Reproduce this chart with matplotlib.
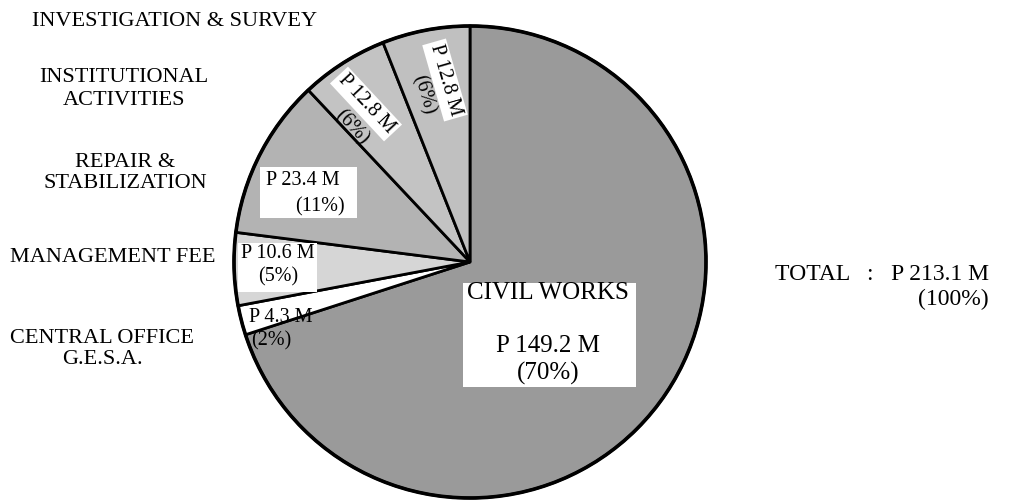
import matplotlib
matplotlib.use('Agg')
import matplotlib.pyplot as plt
from matplotlib.patches import Rectangle

plt.rcParams['font.family'] = 'Liberation Serif'

# data (pesos, millions)
categories = ['CIVIL WORKS', 'CENTRAL OFFICE\nG.E.S.A.', 'MANAGEMENT FEE',
              'REPAIR &\nSTABILIZATION', 'INSTITUTIONAL\nACTIVITIES',
              'INVESTIGATION & SURVEY']
amounts = [149.2, 4.3, 10.6, 23.4, 12.8, 12.8]
percents = [70, 2, 5, 11, 6, 6]
total_amount = 213.1
shades = ['#9a9a9a', '#ffffff', '#d6d6d6', '#b3b3b3', '#c3c3c3', '#c0c0c0']

W, H = 1012, 501
fig = plt.figure(figsize=(W / 100, H / 100), dpi=100)
ax = fig.add_axes([0, 0, 1, 1])

def py(y):  # image row -> data y
    return H - y

cx, cy, r = 470, py(262), 236
wedges, _ = ax.pie(amounts, colors=shades, startangle=90, counterclock=False,
                   center=(cx, cy), radius=r,
                   wedgeprops=dict(edgecolor='black', linewidth=2.0))
ax.set_xlim(0, W)
ax.set_ylim(0, H)
ax.set_aspect('equal')
ax.axis('off')
# heavier rim
ax.add_patch(plt.Circle((cx, cy), r, fill=False, lw=2.6, color='black'))

lbl = [f'P {a} M' for a in amounts]
pct = [f'({p}%)' for p in percents]
fs = 14.5

# white boxes behind the labels
def box(x0, y0, x1, y1):
    ax.add_patch(Rectangle((x0, py(y1)), x1 - x0, y1 - y0, fc='white', ec='none', zorder=3))

# civil works
box(463, 283, 636, 387)
ax.text(548, py(293), categories[0], ha='center', va='center', fontsize=18, zorder=4)
ax.text(548, py(346), lbl[0], ha='center', va='center', fontsize=18, zorder=4)
ax.text(548, py(373), pct[0], ha='center', va='center', fontsize=18, zorder=4)

# central office
ax.text(249, py(317), lbl[1], ha='left', va='center', fontsize=fs, zorder=4)
ax.text(251, py(341), pct[1], ha='left', va='center', fontsize=fs, zorder=4)

# management fee
box(238, 243, 317, 292)
ax.text(278, py(253), lbl[2], ha='center', va='center', fontsize=fs, zorder=4)
ax.text(278, py(277), pct[2], ha='center', va='center', fontsize=fs, zorder=4)

# repair
box(260, 167, 357, 218)
ax.text(303, py(180), lbl[3], ha='center', va='center', fontsize=fs, zorder=4)
ax.text(320, py(207), pct[3], ha='center', va='center', fontsize=fs, zorder=4)

# institutional (rotated)
ax.text(366, py(104), lbl[4], ha='center', va='center', fontsize=fs, rotation=-47,
        rotation_mode='anchor', zorder=4,
        bbox=dict(fc='white', ec='none', pad=2))
ax.text(352, py(127), pct[4], ha='center', va='center', fontsize=fs, rotation=-47,
        rotation_mode='anchor', zorder=4)

# investigation (rotated)
ax.text(445, py(80), lbl[5], ha='center', va='center', fontsize=fs, rotation=-74,
        rotation_mode='anchor', zorder=4,
        bbox=dict(fc='white', ec='none', pad=2))
ax.text(423, py(95), pct[5], ha='center', va='center', fontsize=fs, rotation=-74,
        rotation_mode='anchor', zorder=4)

# category names on the left
cat_fs = 16
ax.text(175, py(21), categories[5], ha='center', va='center', fontsize=cat_fs)
ax.text(124, py(89), categories[4], ha='center', va='center', fontsize=cat_fs, linespacing=1.25)
ax.text(125, py(173), categories[3], ha='center', va='center', fontsize=cat_fs, linespacing=1.15)
ax.text(113, py(257), categories[2], ha='center', va='center', fontsize=cat_fs)
ax.text(102, py(349), categories[1], ha='center', va='center', fontsize=cat_fs, linespacing=1.2)

# total
ax.text(775, py(274), f'TOTAL   :   P {total_amount} M', ha='left', va='center', fontsize=17)
ax.text(953, py(299), '(100%)', ha='center', va='center', fontsize=17)

fig.savefig('out.png', dpi=100)
